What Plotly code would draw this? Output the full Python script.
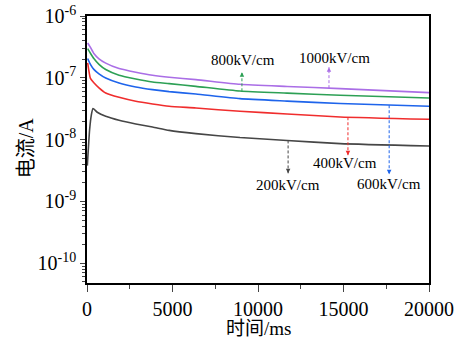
import numpy as np
import plotly.graph_objects as go

# time (ms) and current (A)
t_main = [40, 200, 400, 700, 1095, 1875, 2853, 3831, 4804, 6368, 8945, 11700, 14803, 20000]
i_1000 = [3.65e-7, 3.1e-7, 2.47e-7, 2.03e-7, 1.73e-7, 1.41e-7, 1.23e-7, 1.10e-7, 1.02e-7, 9.35e-8, 7.85e-8, 7.25e-8, 6.68e-8, 5.75e-8]
i_800 = [2.97e-7, 2.5e-7, 2.05e-7, 1.65e-7, 1.36e-7, 1.10e-7, 9.57e-8, 8.56e-8, 8.05e-8, 7.28e-8, 6.1e-8, 5.65e-8, 5.21e-8, 4.71e-8]
i_600 = [2.05e-7, 1.65e-7, 1.37e-7, 1.16e-7, 9.93e-8, 8.24e-8, 7.1e-8, 6.44e-8, 5.98e-8, 5.47e-8, 4.6e-8, 4.2e-8, 3.83e-8, 3.46e-8]
i_400 = [1.75e-7, 9.8e-8, 8.3e-8, 6.89e-8, 5.68e-8, 4.83e-8, 4.17e-8, 3.77e-8, 3.46e-8, 3.25e-8, 2.87e-8, 2.6e-8, 2.32e-8, 2.13e-8]

t_200 = [20, 150, 250, 350, 600, 1095, 1875, 2853, 3831, 4804, 6368, 8945, 11700, 14803, 20000]
i_200 = [3.8e-9, 1.42e-8, 2.47e-8, 3.18e-8, 2.77e-8, 2.38e-8, 2.05e-8, 1.79e-8, 1.6e-8, 1.41e-8, 1.25e-8, 1.08e-8, 9.7e-9, 8.61e-9, 7.87e-9]

labels = ["200kV/cm", "400kV/cm", "600kV/cm", "800kV/cm", "1000kV/cm"]
colors = ["rgb(70,70,70)", "rgb(240,45,45)", "rgb(30,100,235)", "rgb(45,160,85)", "rgb(170,110,230)"]

# annotation anchors: x (ms), curve value, arrow tip value, label value
arrow_x = [11760, 15260, 17670, 9060, 14150]
arrow_from = [9.7e-9, 2.3e-8, 3.6e-8, 6.05e-8, 6.8e-8]
arrow_tip = [2.85e-9, 5.6e-9, 2.75e-9, 1.23e-7, 1.48e-7]
label_x = [11760, 15090, 17670, 9130, 14500]
label_y = [1.82e-9, 4.14e-9, 1.89e-9, 1.92e-7, 2.07e-7]

y_ticks = [1e-10, 1e-9, 1e-8, 1e-7, 1e-6]
y_ticktext = ["10<sup>-10</sup>", "10<sup>-9</sup>", "10<sup>-8</sup>", "10<sup>-7</sup>", "10<sup>-6</sup>"]
x_ticks = [0, 5000, 10000, 15000, 20000]
x_ticktext = ["0", "5000", "10000", "15000", "20000"]
x_title = "时间/ms"
y_title = "电流/A"

LAT = "Liberation Serif"
CJK = "Liberation Serif, Noto Sans CJK SC"

fig = go.Figure()
series = [(t_200, i_200), (t_main, i_400), (t_main, i_600), (t_main, i_800), (t_main, i_1000)]
for (tt, ii), c, lab in zip(series, colors, labels):
    fig.add_trace(go.Scatter(x=tt, y=ii, mode="lines", line=dict(color=c, width=1.6, shape="spline", smoothing=0.5),
                             name=lab, showlegend=False))

for k in range(5):
    fig.add_trace(go.Scatter(x=[arrow_x[k], arrow_x[k]], y=[arrow_from[k], arrow_tip[k]],
                             mode="lines", line=dict(color=colors[k], width=1, dash="3px,2px"),
                             showlegend=False, hoverinfo="skip"))
    up = arrow_tip[k] > arrow_from[k]
    fig.add_annotation(x=arrow_x[k], y=np.log10(arrow_tip[k]), xref="x", yref="y",
                       ax=0, ay=(5 if up else -5), showarrow=True, arrowhead=2,
                       arrowsize=0.9, arrowwidth=1, arrowcolor=colors[k], text="")
    fig.add_annotation(x=label_x[k], y=np.log10(label_y[k]), xref="x", yref="y",
                       text=labels[k], showarrow=False,
                       font=dict(family=LAT, size=15, color="black"))

# axis titles placed as annotations (paper coordinates)
fig.add_annotation(x=0.5, y=-0.169, xref="paper", yref="paper", text=x_title, showarrow=False,
                   xanchor="center", yanchor="middle", borderpad=0,
                   font=dict(family=CJK, size=19, color="black"))
fig.add_annotation(x=-0.178, y=0.505, xref="paper", yref="paper", text=y_title, showarrow=False,
                   textangle=-90, xanchor="center", yanchor="middle", borderpad=0,
                   font=dict(family=CJK, size=20, color="black"))

minor_y = [m * 10.0 ** e for e in range(-11, -6) for m in range(2, 10)]

fig.update_layout(
    width=460, height=338,
    margin=dict(l=87, r=31, t=16, b=55),
    paper_bgcolor="white", plot_bgcolor="white",
    font=dict(family=LAT, size=20, color="black"),
)
fig.update_xaxes(
    range=[0, 20000], tickvals=x_ticks, ticktext=x_ticktext, ticks="outside", ticklen=7, tickwidth=1.2,
    showline=True, linecolor="black", linewidth=1.5, mirror=True, showgrid=False, zeroline=False,
    automargin=False,
    minor=dict(tickvals=[2500, 7500, 12500, 17500], ticks="outside", ticklen=4, tickwidth=1.2, showgrid=False),
    tickfont=dict(family=LAT, size=20, color="black"),
)
fig.update_yaxes(
    type="log", range=[-10.32, -6], tickvals=y_ticks, ticktext=y_ticktext,
    ticks="outside", ticklen=5, tickwidth=1.2,
    showline=True, linecolor="black", linewidth=1.5, mirror=True, showgrid=False, zeroline=False,
    automargin=False,
    minor=dict(tickvals=minor_y, ticks="outside", ticklen=3, tickwidth=1, showgrid=False),
    tickfont=dict(family=LAT, size=20, color="black"),
)

fig.write_html("out.html")
